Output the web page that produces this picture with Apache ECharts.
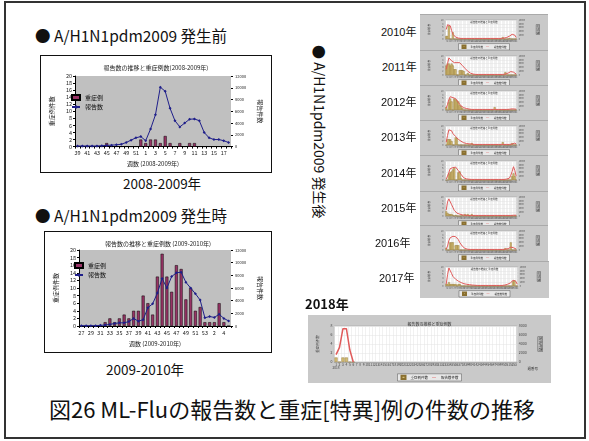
<!DOCTYPE html>
<html><head><meta charset="utf-8">
<script src="https://cdn.jsdelivr.net/npm/echarts@6/dist/echarts.min.js"></script>
<style>
body{margin:0;width:589px;height:441px;position:relative;background:#fff;overflow:hidden;font-family:"Noto Sans CJK JP",sans-serif;color:#111}
.t{position:absolute;white-space:nowrap;line-height:1;font-family:"Noto Sans CJK JP",sans-serif}
.c{position:absolute}
</style></head><body>
<div style="position:absolute;left:4px;top:1px;width:582px;height:438px;border:2px solid #333;box-sizing:border-box"></div>

<div class="t" style="left:35px;top:28px;font-size:15.5px">● A/H1N1pdm2009 発生前</div>
<div class="c" id="c1" style="left:40px;top:55px;width:230px;height:116px;border:1px solid #111"></div>
<div class="t" style="left:123px;top:177px;font-size:13.5px">2008-2009年</div>

<div class="t" style="left:35px;top:208px;font-size:15.5px">● A/H1N1pdm2009 発生時</div>
<div class="c" id="c2" style="left:44px;top:231px;width:226px;height:120px;border:1px solid #111"></div>
<div class="t" style="left:106px;top:363px;font-size:13.5px">2009-2010年</div>

<div class="t" style="left:313px;top:45px;font-size:14px;writing-mode:vertical-rl;text-orientation:sideways">● A/H1N1pdm2009 発生後</div>

<div id="years"></div>

<div class="t" style="left:305px;top:297px;font-size:13px;font-weight:bold">2018年</div>
<div class="c" id="c18" style="left:308px;top:315px;width:243px;height:68px"></div>

<div class="t" style="left:49px;top:397px;font-size:22px">図26 ML-Fluの報告数と重症[特異]例の件数の推移</div>

<script>
// ---------- data ----------
var weeks1 = ['39','40','41','42','43','44','45','46','47','48','49','50','51','52','1','2','3','4','5','6','7','8','9','10','11','12','13','14','15','16','17','18'];
var cases1 = [0,0,0,0,0,0,1,0,0,0,0,0,0,2,1,2,2,1,3,1,0,1,0,1,1,0,0,0,0,0,0,0];
var reports1 = [100,100,100,100,100,150,200,250,300,400,700,1100,1500,1700,1000,3000,5400,10100,9400,6500,4400,3350,4000,4650,4700,4400,2400,1500,1200,1200,1000,700];

var weeks2 = ['27','28','29','30','31','32','33','34','35','36','37','38','39','40','41','42','43','44','45','46','47','48','49','50','51','52','53','1','2','3','4','5'];
var cases2 = [0,0,0,0,0,1,2,1,2,3,2,4,4,8,6,3,13,19,13,9,16,15,7,10,4,5,1,1,1,6,1,0];
var reports2 = [50,50,50,50,100,150,250,400,500,500,700,1200,750,1000,2900,3500,5200,7500,6000,7800,8400,8500,6900,6000,5100,4100,1300,1500,1350,1850,1200,800];

var weeks53 = ['1','2','3','4','5','6','7','8','9','10','11','12','13','14','15','16','17','18','19','20','21','22','23','24','25','26','27','28','29','30','31','32','33','34','35','36','37','38','39','40','41','42','43','44','45','46','47','48','49','50','51','52','53'];

var years = ['2010年','2011年','2012年','2013年','2014年','2015年','2016年','2017年'];

var line2010 = [5000,7500,8500,7000,4500,2500,1500,1000,700,500,
 400,300,300,300,300,300,300,300,300,300,
 300,300,300,300,300,300,300,300,300,300,
 300,300,300,300,300,300,300,300,300,300,
 300,300,400,500,600,800,1100,1500,2000,2500,
 2800,2000,800];
var bar2010 = [1.5,1.5,7,0,0,3.5,0,0,0,0,
 0,0,0,0,0,0,0,0,0,0,
 0,0,0,0,0,0,0,0,0,0,
 0,0,0,0,0,0,0,0,0,0,
 0,0,1,0,0,0,0,0.5,0,0,
 0,0,0];

var line2011 = [3000,6000,9000,8500,7500,7000,6500,6000,6500,7000,
 6500,5500,5000,4500,3500,3000,2000,1200,1000,700,
 500,400,300,300,300,300,300,300,300,300,
 300,300,300,300,300,300,300,300,300,300,
 300,300,300,400,500,700,1000,1400,1800,2000,
 1500,900,500];
var bar2011 = [5,6,6,5,6,5,3,3,0,0,
 2.5,2.5,2.5,2,0,0,1,0,0,0,
 0,0,0,0,0,0,0,0,0,0,
 0,0,0,0,0,0,0,0,0,0,
 0,0,0,0,1.5,0,0,0,0,0,
 0,0,0];

var line2012 = [1000,3000,5500,7000,7500,6500,6500,6000,5000,4000,
 3000,2200,1500,1200,1000,800,600,500,400,300,
 300,300,300,300,300,300,300,300,300,300,
 300,300,300,300,300,300,300,300,300,300,
 300,300,300,300,300,300,300,400,500,600,
 600,500,400];
var bar2012 = [1.5,0,4,6,4.5,0,6,5.5,5,4.5,
 2.5,2,1,0,0,0,0,0,0,0,
 0,0,0,0,0,0,0,0,0,0,
 0,0,0,0,0,0,1.5,0,0,0,
 0,0,0,0,0,0,0,0,0,0,
 0,0,0];

var line2013 = [1500,5000,8000,9000,7500,6000,5000,4500,4000,3000,
 2500,2000,1500,1200,1000,800,700,600,500,500,
 400,300,300,300,300,300,300,300,300,300,
 300,300,300,300,300,300,300,300,300,300,
 300,300,300,300,300,300,300,300,400,500,
 800,1000,500];
var bar2013 = [0,3,3,3,2,0,0,4,3.5,0,
 0,0,0,0,0,0,0,0,0,1,
 0,0,0,0,0,0,0,0,0,0,
 0,0,0,0,0,0,0,0,0,0,
 0,0,1.5,0,0,0,0,0,0,1,
 0,0,0];

var line2014 = [500,2000,4000,6000,7000,6500,7000,6800,6000,5000,
 4000,3000,2000,1200,800,600,500,400,300,300,
 300,300,300,300,300,300,300,300,300,300,
 300,300,300,300,300,300,300,300,300,300,
 300,300,300,300,400,500,700,1000,2500,4500,
 7000,5000,2000];
var bar2014 = [0,0,3,4,4.5,5.5,6.5,0,0,4,
 4.5,1,0,0,0,0,0,0,0,0,
 0,0,0,0,0,0,0,0,0,0,
 0,0,0,0,0,0,0,0,0,0,
 0,0,0,0,0,0,0,0,0,2,
 3.5,2,0];

var line2015 = [3000,7500,9000,8000,6000,4500,3000,2000,1500,1200,
 1000,800,600,500,400,400,300,300,300,300,
 300,300,300,300,300,300,300,300,300,300,
 300,300,300,300,300,300,300,300,300,300,
 300,300,300,300,300,300,300,300,300,300,
 400,500,400];
var bar2015 = [2.5,1.5,1,1,1,0.5,0,0.5,0,0,
 0,0,0.5,0,1,0,1,0,0,1,
 0,0,0,0,0,0,0,0,0,0,
 0,0,0,0,0,0,0,0,0,0,
 0,0,0,0,0,0,0,0,0,0,
 0,0,0];

var line2016 = [500,2000,5000,6500,7200,7200,7000,7000,6500,5500,
 4000,3000,2000,1200,800,500,400,300,300,300,
 300,300,300,300,300,300,300,300,300,300,
 300,300,300,300,300,300,300,300,300,300,
 300,300,300,300,400,500,700,1000,1500,1500,
 1200,800,500];
var bar2016 = [1,0,0,4,4,4,0,2.5,2.5,2.5,
 0,0,0,0,0,0,0,0,0,0,
 0,0,0,0,0,0,0,0,0,0,
 0,0,0,0,0,0,0,0,0,0,
 0,0,0,0,1,0,0,0,4,0,
 0,0,0];

var line2017 = [1000,6000,9500,8500,6500,5000,4000,3500,3000,2500,
 2000,1800,1500,1200,1000,900,800,700,600,500,
 400,400,300,300,300,300,300,300,300,300,
 300,300,300,300,300,300,300,300,300,300,
 300,300,400,500,700,900,1200,1600,2200,3000,
 4000,2500,1000];
var bar2017 = [1,1,2,1,1,1,1,1,0,1,
 1,0,0,0,0,0,0,0,0,0,
 0,0,0,0,0,0,0,0,0,0,
 0,0,0,0,0,0,0,0,0,0,
 0,0,0,0,0,0,0,0,0,2.5,
 3,0,0];

var cases2018 = [1,0,1,1,0,0];
var reports2018 = [1650,3250,7400,7400,2650,0];

// ---------- layout ----------
var JP = '"Noto Sans CJK JP", sans-serif';
var yearLabelX = [381,382,381,381,381,381,375,379];
var yearLabelY = [33,68,103,138,174,209,244,279];
var panelTop = [14,50,85,120,155,191,225,261];
function plain(v) { return String(v); }

function mainOption(title, xname, cats, cases, reports, grid, legendPos) {
  return {
    animation: false,
    backgroundColor: '#fff',
    textStyle: {fontFamily: JP},
    title: {text: title, left: 'center', top: 4, textStyle: {fontSize: 6, fontWeight: 'normal', color: '#222', fontFamily: JP}},
    legend: {orient: 'vertical', left: legendPos[0], top: legendPos[1], padding: 0, itemWidth: 8, itemHeight: 5, itemGap: 3,
      textStyle: {fontSize: 6, color: '#111', fontFamily: JP}, data: [{name: '重症例', icon: 'rect'}, {name: '報告数'}]},
    grid: {left: grid[0], right: grid[1], top: grid[2], bottom: grid[3], show: true, backgroundColor: '#c0c0c0', borderWidth: 0},
    xAxis: {type: 'category', data: cats, name: xname, nameLocation: 'middle', nameGap: 12,
      nameTextStyle: {fontSize: 6, color: '#222', fontFamily: JP},
      axisLabel: {interval: 1, fontSize: 5.5, color: '#222', margin: 4},
      axisTick: {show: true, interval: 0, length: 2, lineStyle: {color: '#000'}},
      axisLine: {lineStyle: {color: '#000', width: 1}}},
    yAxis: [
      {type: 'value', min: 0, max: 20, interval: 2, name: '重症例件数', nameLocation: 'middle', nameRotate: 90, nameGap: 13,
        nameTextStyle: {fontSize: 6, color: '#222', fontFamily: JP},
        axisLine: {show: true, lineStyle: {color: '#000'}}, axisTick: {show: true, length: 2, lineStyle: {color: '#000'}},
        splitLine: {show: false}, axisLabel: {fontSize: 5.5, color: '#222', margin: 3}},
      {type: 'value', min: 0, max: 12000, interval: 2000, name: '報告件数', nameLocation: 'middle', nameRotate: -90, nameGap: 22,
        position: 'right', nameTextStyle: {fontSize: 6, color: '#222', fontFamily: JP},
        axisLine: {show: false}, axisTick: {show: true, length: 2, lineStyle: {color: '#000'}},
        splitLine: {show: false}, axisLabel: {fontSize: 4, color: '#222', margin: 4, formatter: plain}}
    ],
    series: [
      {name: '重症例', type: 'bar', data: cases, yAxisIndex: 0, barWidth: 3,
        itemStyle: {color: '#993366', borderColor: '#000', borderWidth: 0.5}},
      {name: '報告数', type: 'line', data: reports, yAxisIndex: 1, symbol: 'diamond', symbolSize: 3,
        lineStyle: {color: '#1f1f8a', width: 1}, itemStyle: {color: '#1f1f8a'}}
    ]
  };
}

function weekOption(bars, line, s, grid, yMax, yInt, rMax, rInt, extra) {
  var opt = {
    animation: false,
    backgroundColor: '#c9c9c9',
    textStyle: {fontFamily: JP},
    title: [{text: '報告数の推移と重症例数', left: 'center', top: s.titleTop, textStyle: {fontSize: s.title, fontWeight: 'normal', color: '#333', fontFamily: JP}}],
    legend: {bottom: s.legendBottom, left: 'center', itemWidth: s.legItem, itemHeight: s.legItem * 0.8, itemGap: s.legItem,
      backgroundColor: '#e8e8e8', borderColor: '#555', borderWidth: 0.5, padding: [1, 3],
      textStyle: {fontSize: s.leg, color: '#222', fontFamily: JP},
      data: [{name: '重症例件数', icon: 'rect'}, {name: '報告数件数', icon: 'path://M0,5L10,5L10,6L0,6Z'}]},
    grid: {left: grid[0], right: grid[1], top: grid[2], bottom: grid[3], show: true, backgroundColor: '#fff', borderColor: '#999', borderWidth: 0.5},
    xAxis: {type: 'category', data: weeks53,
      axisLabel: {interval: 0, fontSize: s.xl, color: '#444', margin: 1.5, formatter: s.xfmt},
      axisTick: {show: false}, axisLine: {lineStyle: {color: '#888', width: 0.5}},
      splitLine: {show: true, interval: 0, lineStyle: {color: '#e2e2e2', width: 0.5}}},
    yAxis: [
      {type: 'value', min: 0, max: yMax, interval: yInt, name: '重症例件数', nameLocation: 'middle', nameRotate: 90, nameGap: s.nameGapL,
        nameTextStyle: {fontSize: s.yl, color: '#444', fontFamily: JP},
        axisLine: {show: false}, axisTick: {show: false},
        splitLine: {show: true, lineStyle: {color: '#e2e2e2', width: 0.5}}, axisLabel: {fontSize: s.yl, color: '#444', margin: 2}},
      {type: 'value', min: 0, max: rMax, interval: rInt, name: '報告件数', nameLocation: 'middle', nameRotate: -90, nameGap: s.nameGapR,
        position: 'right', nameTextStyle: {fontSize: s.yl, color: '#444', fontFamily: JP, backgroundColor: '#bbb', borderColor: '#666', borderWidth: 0.5, padding: 0.5},
        axisLine: {show: false}, axisTick: {show: false}, splitLine: {show: false},
        axisLabel: {fontSize: s.yl, color: '#444', margin: 2, formatter: plain}}
    ],
    series: [
      {name: '重症例件数', type: 'bar', data: bars, yAxisIndex: 0, barWidth: s.barW,
        itemStyle: {color: '#d4bd74', borderColor: '#8a7030', borderWidth: 0.4}},
      {name: '報告数件数', type: 'line', data: line, yAxisIndex: 1, showSymbol: false, symbol: 'none',
        lineStyle: {color: '#e05a5a', width: s.lineW}, itemStyle: {color: '#e05a5a'}}
    ]
  };
  if (extra) opt.title.push(extra);
  return opt;
}

var c1 = echarts.init(document.getElementById('c1'), null, {renderer: 'canvas'});
c1.setOption(mainOption('報告数の推移と重症例数(2008-2009年)', '週数 (2008-2009年)', weeks1, cases1, reports1, [23, 29, 20, 22], [30, 38]));

var c2 = echarts.init(document.getElementById('c2'), null, {renderer: 'canvas'});
c2.setOption(mainOption('報告数の推移と重症例数 (2009-2010年)', '週数 (2009-2010年)', weeks2, cases2, reports2, [22, 29, 18, 26], [29, 30]));

var smallBars = [bar2010, bar2011, bar2012, bar2013, bar2014, bar2015, bar2016, bar2017];
var smallLines = [line2010, line2011, line2012, line2013, line2014, line2015, line2016, line2017];
var holder = document.getElementById('years');
var smallStyle = {title: 2.5, titleTop: 1, leg: 2.5, legItem: 3, legendBottom: 1, xl: 1.8, yl: 2.2, nameGapL: 5, nameGapR: 5, barW: 2, lineW: 1,
  xfmt: function (v) { return v; }};
for (var i = 0; i < years.length; i++) {
  var lab = document.createElement('div');
  lab.className = 't';
  lab.style.cssText = 'left:' + yearLabelX[i] + 'px;top:' + (yearLabelY[i] - 6) + 'px;font-size:11px;font-family:"Liberation Sans","Noto Sans CJK JP",sans-serif';
  lab.textContent = years[i];
  holder.appendChild(lab);
  var d = document.createElement('div');
  d.className = 'c';
  d.style.cssText = 'left:420px;top:' + panelTop[i] + 'px;width:' + (i === 7 ? 129 : 128) + 'px;height:36px;border-top:1px solid #aaa';
  holder.appendChild(d);
  var ch = echarts.init(d);
  ch.setOption(weekOption(smallBars[i], smallLines[i], smallStyle, [8, 6, 5, 12], 10, 2, 10000, 2000));
}

var c18 = echarts.init(document.getElementById('c18'));
var s18 = {title: 4, titleTop: 2, leg: 3.5, legItem: 4, legendBottom: 2, xl: 3.2, yl: 3.5, nameGapL: 8, nameGapR: 12, barW: 3, lineW: 1.5,
  xfmt: function (v, idx) { return idx === 0 ? v + '\n2018' : v; }};
c18.setOption(weekOption(cases2018, reports2018, s18, [14, 13, 11, 21], 8, 2, 8000, 2000,
  {text: '週番号', right: 8, bottom: 8, textStyle: {fontSize: 3.5, fontWeight: 'normal', color: '#333', fontFamily: JP}}));
</script>
</body></html>
